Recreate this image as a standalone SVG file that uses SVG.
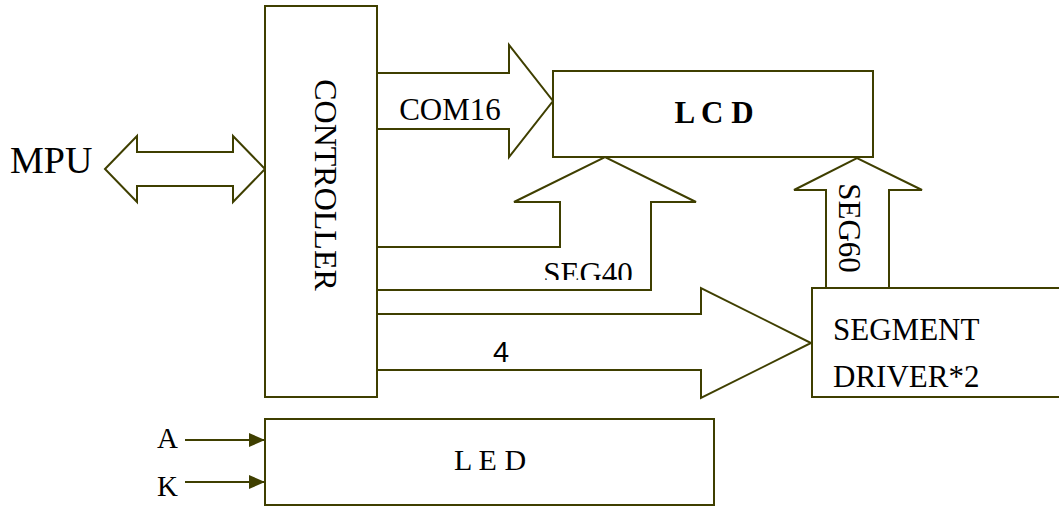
<svg xmlns="http://www.w3.org/2000/svg" width="1059" height="506" viewBox="0 0 1059 506">
  <style>
    .box { fill: #ffffff; stroke: #3f3f00; stroke-width: 2; }
    .arr { fill: #ffffff; stroke: #3f3f00; stroke-width: 2; stroke-linejoin: miter; }
    .ln { stroke: #3f3f00; stroke-width: 2; fill: none; }
    text { fill: #000000; }
  </style>
  <defs>
    <marker id="ah" markerWidth="16" markerHeight="14" refX="16" refY="7" orient="auto" markerUnits="userSpaceOnUse">
      <polygon points="0,0 16,7 0,14" fill="#3f3f00"/>
    </marker>
    <clipPath id="seg40clip">
      <rect x="378" y="248" width="272" height="32"/>
    </clipPath>
  </defs>
  <rect width="1059" height="506" fill="#ffffff"/>

  <g id="connectors" font-family="Liberation Serif, serif">
    <polygon class="arr" points="105,169 137,136 137,152 233,152 233,136 265,169 233,202 233,186 137,186 137,202"/>
    <polygon class="arr" points="377,73 509,73 509,45 553,101 509,157 509,129 377,129"/>
    <polygon class="arr" points="377,247 560,247 560,202 514,202 605,157 696,202 651,202 651,290 377,290"/>
    <polygon class="arr" points="377,314 701,314 701,288 811,343 701,398 701,370 377,370"/>
    <polygon class="arr" points="826,288 826,190 794,190 857,158 922,190 889,190 889,288"/>
    <line class="ln" x1="185" y1="440" x2="265" y2="440" marker-end="url(#ah)"/>
    <line class="ln" x1="185" y1="482" x2="265" y2="482" marker-end="url(#ah)"/>
    <text x="450" y="120" font-size="31" text-anchor="middle">COM16</text>
    <text x="588" y="284" font-size="31" text-anchor="middle" clip-path="url(#seg40clip)">SEG40</text>
    <text x="501" y="362" font-size="29" text-anchor="middle" font-family="Liberation Sans, sans-serif">4</text>
    <text x="839" y="228" font-size="31" text-anchor="middle" transform="rotate(90 839 228)">SEG60</text>
    <text x="157" y="448" font-size="29">A</text>
    <text x="157" y="496" font-size="29">K</text>
  </g>

  <g id="mpu" font-family="Liberation Serif, serif">
    <text x="10" y="173" font-size="38">MPU</text>
  </g>

  <g id="controller" font-family="Liberation Serif, serif">
    <rect class="box" x="265" y="6" width="112" height="391"/>
    <text x="315" y="185" font-size="32" text-anchor="middle" transform="rotate(90 315 185)">CONTROLLER</text>
  </g>

  <g id="lcd" font-family="Liberation Serif, serif">
    <rect class="box" x="553" y="71" width="320" height="86"/>
    <text x="714" y="123" font-size="31" font-weight="bold" text-anchor="middle">L C D</text>
  </g>

  <g id="segment-driver" font-family="Liberation Serif, serif">
    <rect class="box" x="812" y="288" width="260" height="109"/>
    <text x="833" y="340" font-size="31">SEGMENT</text>
    <text x="833" y="387" font-size="31">DRIVER*2</text>
  </g>

  <g id="led" font-family="Liberation Serif, serif">
    <rect class="box" x="265" y="419" width="449" height="86"/>
    <text x="490" y="470" font-size="30" text-anchor="middle">L E D</text>
  </g>
</svg>
